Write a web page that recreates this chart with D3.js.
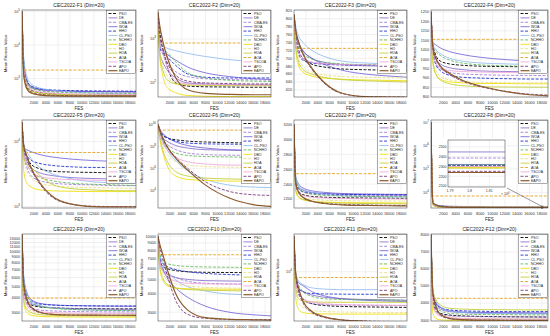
<!DOCTYPE html>
<html>
<head>
<meta charset="utf-8">
<script src="https://cdn.jsdelivr.net/npm/d3@7"></script>
<style>
  body { margin: 0; background: #fff; }
  svg { display: block; font-family: "Liberation Sans", Arial, sans-serif; }
</style>
</head>
<body>
<div id="chart"></div>
<script>
// sample points (FES) shared by every curve
const fes = [0, 300, 800, 1500, 3000, 5000, 8000, 12000, 16000, 19000];
const algos = ["PSO", "DE", "CMA-ES", "WOA", "HHO", "CL-PSO", "NCHHO", "DBO", "HO", "HOA", "AOA", "TSCOA", "APO", "EAPO"];
const xTicks = [2000, 4000, 6000, 8000, 10000, 12000, 14000, 16000, 18000];

// rows follow the algos order
const f1 = [
	[100000, 1500, 600, 450, 380, 350, 330, 320, 315, 312],
	[100000, 3000, 900, 600, 480, 440, 420, 410, 405, 400],
	[100000, 2000, 700, 520, 450, 420, 410, 405, 400, 398],
	[100000, 2500, 800, 550, 470, 440, 420, 410, 405, 402],
	[100000, 3000, 900, 600, 500, 460, 440, 430, 425, 420],
	[100000, 4000, 1200, 700, 520, 450, 400, 370, 350, 340],
	[100000, 2500, 800, 550, 440, 400, 380, 370, 365, 360],
	[100000, 1200, 500, 380, 330, 315, 308, 305, 303, 302],
	[100000, 1500, 550, 420, 360, 340, 330, 325, 322, 320],
	[100000, 1800, 600, 430, 370, 345, 330, 322, 318, 315],
	[100000, 1800, 1800, 1800, 1800, 1800, 1800, 1800, 1800, 1800],
	[100000, 2000, 700, 480, 400, 370, 350, 340, 335, 330],
	[100000, 1500, 550, 400, 340, 320, 310, 306, 304, 303],
	[100000, 1200, 500, 370, 320, 305, 301, 300, 300, 300]
];
const f2 = [
	[4000, 1500, 600, 250, 100, 85, 82, 81, 80, 80],
	[4000, 500, 300, 200, 130, 100, 95, 92, 91, 90],
	[4000, 700, 450, 300, 180, 140, 125, 120, 118, 116],
	[4000, 700, 550, 450, 330, 230, 170, 140, 125, 120],
	[4000, 600, 500, 400, 250, 160, 135, 130, 130, 130],
	[4000, 900, 700, 620, 540, 470, 400, 340, 300, 280],
	[4000, 800, 600, 500, 300, 170, 130, 115, 110, 108],
	[4000, 400, 150, 80, 60, 52, 50, 49, 49, 49],
	[4000, 500, 250, 150, 100, 92, 90, 89, 88, 88],
	[4000, 450, 200, 120, 95, 90, 88, 87, 87, 86],
	[4000, 810, 810, 810, 810, 810, 810, 810, 810, 810],
	[4000, 1000, 500, 250, 110, 95, 92, 91, 90, 90],
	[4000, 1200, 600, 300, 150, 110, 100, 97, 95, 95],
	[4000, 2000, 900, 400, 130, 70, 58, 55, 54, 54]
];
const f3 = [
	[810, 760, 720, 700, 685, 678, 673, 671, 670, 670],
	[810, 770, 740, 720, 700, 690, 684, 681, 680, 679],
	[810, 750, 715, 700, 690, 686, 684, 683, 682, 682],
	[810, 760, 735, 718, 700, 685, 670, 660, 655, 652],
	[810, 750, 710, 695, 688, 685, 683, 682, 681, 681],
	[810, 780, 755, 740, 720, 705, 693, 688, 686, 685],
	[810, 765, 730, 712, 698, 690, 686, 684, 683, 683],
	[810, 720, 680, 665, 655, 650, 647, 645, 644, 643],
	[810, 740, 700, 680, 665, 658, 654, 652, 651, 650],
	[810, 730, 690, 672, 660, 652, 646, 643, 641, 640],
	[810, 725, 725, 725, 725, 725, 725, 725, 725, 725],
	[810, 745, 715, 700, 690, 686, 684, 683, 682, 682],
	[810, 768, 738, 710, 672, 638, 611, 603, 602, 602],
	[810, 770, 740, 712, 675, 640, 612, 603, 602, 601]
];
const f4 = [
	[1250, 1080, 1020, 990, 975, 968, 963, 961, 960, 960],
	[1250, 1060, 1000, 975, 955, 945, 938, 935, 933, 932],
	[1250, 1050, 980, 950, 930, 922, 918, 915, 914, 913],
	[1250, 1090, 1075, 1060, 1040, 1025, 1010, 998, 990, 985],
	[1250, 1040, 970, 940, 915, 905, 900, 897, 895, 895],
	[1250, 1080, 1050, 1030, 1005, 990, 980, 975, 972, 970],
	[1250, 1070, 1040, 1020, 995, 980, 970, 965, 962, 960],
	[1250, 980, 920, 895, 880, 875, 872, 871, 870, 870],
	[1250, 1000, 940, 910, 890, 882, 878, 876, 875, 875],
	[1250, 990, 920, 890, 870, 860, 855, 853, 852, 852],
	[1250, 1105, 1105, 1105, 1105, 1105, 1105, 1105, 1105, 1105],
	[1250, 1030, 980, 955, 940, 935, 932, 930, 930, 930],
	[1250, 1060, 1000, 960, 920, 885, 855, 830, 815, 810],
	[1250, 1065, 1005, 965, 925, 890, 858, 830, 812, 806]
];
const f5 = [
	[20000, 9000, 6000, 4500, 3800, 3500, 3400, 3350, 3300, 3300],
	[20000, 7000, 5000, 4000, 3300, 3000, 2800, 2700, 2650, 2600],
	[20000, 6000, 4000, 3000, 2500, 2300, 2200, 2150, 2100, 2100],
	[20000, 8000, 7500, 7000, 6300, 5800, 5400, 5100, 4950, 4900],
	[20000, 7000, 6000, 5200, 4600, 4300, 4100, 4000, 4000, 4000],
	[20000, 9000, 7000, 5500, 4000, 3200, 2700, 2400, 2300, 2250],
	[20000, 6000, 4500, 3500, 2800, 2500, 2300, 2200, 2150, 2100],
	[20000, 3500, 2300, 2000, 1800, 1750, 1720, 1700, 1700, 1700],
	[20000, 5000, 3500, 2800, 2300, 2100, 2000, 1950, 1920, 1900],
	[20000, 5500, 4500, 4000, 3000, 2200, 1900, 1800, 1750, 1750],
	[20000, 6800, 6800, 6800, 6800, 6800, 6800, 6800, 6800, 6800],
	[20000, 6500, 4500, 3500, 2900, 2700, 2600, 2550, 2500, 2500],
	[20000, 8000, 5500, 3800, 2200, 1400, 1100, 1010, 1000, 1000],
	[20000, 8500, 6000, 4000, 2300, 1450, 1100, 1000, 990, 985]
];
const f6 = [
	[1e10, 3e9, 1e9, 6e8, 4e8, 3e8, 2.5e8, 2.2e8, 2e8, 2e8],
	[1e10, 2e9, 6e8, 3e8, 1.2e8, 7e7, 5e7, 4.5e7, 4e7, 4e7],
	[1e10, 1.5e9, 4e8, 1.5e8, 5e7, 2.5e7, 1.8e7, 1.6e7, 1.5e7, 1.5e7],
	[1e10, 4e9, 1.5e9, 7e8, 2.5e8, 1.2e8, 7e7, 5e7, 4.5e7, 4.3e7],
	[1e10, 3e9, 1.2e9, 6e8, 3e8, 2e8, 1.7e8, 1.6e8, 1.5e8, 1.5e8],
	[1e10, 2e9, 3e8, 5e7, 5e6, 6e5, 1e5, 3e4, 2e4, 1.8e4],
	[1e10, 1.5e9, 3e8, 8e7, 2.5e7, 1.5e7, 1.2e7, 1.1e7, 1e7, 1e7],
	[1e10, 5e8, 3e7, 2e6, 2e5, 1e5, 8e4, 7e4, 7e4, 7e4],
	[1e10, 1e9, 1e8, 2e7, 4e6, 2e6, 1.5e6, 1.3e6, 1.2e6, 1.2e6],
	[1e10, 8e8, 5e7, 5e6, 5e5, 2e5, 1.3e5, 1.1e5, 1e5, 1e5],
	[1e10, 3e9, 3e9, 3e9, 3e9, 3e9, 3e9, 3e9, 3e9, 3e9],
	[1e10, 1e9, 2e8, 5e7, 1e7, 4e6, 2.5e6, 2e6, 1.9e6, 1.8e6],
	[1e10, 3e9, 5e8, 1e8, 1e7, 1e6, 6e4, 8e3, 4e3, 3.5e3],
	[1e10, 3e9, 6e8, 1e8, 8e6, 7e5, 3e4, 2e3, 500, 350]
];
const f7 = [
	[3200, 2400, 2300, 2260, 2235, 2225, 2218, 2214, 2212, 2210],
	[3200, 2450, 2360, 2320, 2290, 2275, 2265, 2258, 2255, 2253],
	[3200, 2420, 2330, 2295, 2270, 2258, 2250, 2246, 2244, 2243],
	[3200, 2500, 2400, 2350, 2310, 2290, 2275, 2268, 2264, 2262],
	[3200, 2420, 2340, 2300, 2280, 2270, 2263, 2260, 2258, 2257],
	[3200, 2480, 2380, 2330, 2290, 2265, 2245, 2235, 2230, 2228],
	[3200, 2450, 2350, 2300, 2265, 2250, 2240, 2235, 2232, 2230],
	[3200, 2300, 2220, 2190, 2170, 2160, 2153, 2150, 2148, 2147],
	[3200, 2350, 2260, 2220, 2195, 2185, 2178, 2175, 2173, 2172],
	[3200, 2320, 2230, 2195, 2170, 2155, 2145, 2140, 2137, 2135],
	[3200, 2540, 2540, 2540, 2540, 2540, 2540, 2540, 2540, 2540],
	[3200, 2380, 2290, 2250, 2225, 2215, 2208, 2204, 2202, 2200],
	[3200, 2400, 2280, 2220, 2170, 2145, 2128, 2120, 2116, 2114],
	[3200, 2410, 2290, 2225, 2170, 2140, 2122, 2114, 2110, 2108]
];
const f8 = [
	[1e7, 3000, 2500, 2400, 2350, 2330, 2320, 2312, 2308, 2305],
	[1e7, 4000, 3000, 2700, 2550, 2500, 2470, 2455, 2450, 2448],
	[1e7, 3500, 2800, 2600, 2480, 2430, 2405, 2392, 2388, 2386],
	[1e7, 3800, 2900, 2600, 2450, 2380, 2345, 2330, 2322, 2320],
	[1e7, 3500, 2800, 2550, 2420, 2360, 2330, 2318, 2314, 2312],
	[1e7, 4000, 3000, 2650, 2450, 2360, 2320, 2305, 2300, 2298],
	[1e7, 3600, 2800, 2550, 2420, 2360, 2335, 2322, 2318, 2316],
	[1e7, 2800, 2450, 2350, 2310, 2298, 2292, 2290, 2290, 2290],
	[1e7, 3000, 2550, 2400, 2330, 2310, 2302, 2300, 2299, 2298],
	[1e7, 2900, 2500, 2380, 2320, 2300, 2292, 2287, 2284, 2282],
	[1e7, 7000, 7000, 7000, 7000, 7000, 7000, 7000, 7000, 7000],
	[1e7, 3200, 2600, 2450, 2360, 2325, 2310, 2304, 2301, 2300],
	[1e7, 3500, 2800, 2500, 2350, 2290, 2262, 2252, 2250, 2250],
	[1e7, 3600, 2850, 2500, 2340, 2280, 2255, 2243, 2239, 2238]
];
const f9 = [
	[14000, 5000, 3800, 3500, 3350, 3300, 3260, 3240, 3230, 3230],
	[14000, 5500, 4000, 3600, 3400, 3300, 3250, 3220, 3200, 3200],
	[14000, 4500, 3600, 3300, 3150, 3100, 3070, 3050, 3040, 3040],
	[14000, 6000, 4500, 3900, 3600, 3500, 3450, 3420, 3400, 3400],
	[14000, 5500, 4200, 3800, 3550, 3480, 3440, 3425, 3420, 3420],
	[14000, 6000, 4400, 3800, 3450, 3300, 3200, 3150, 3120, 3110],
	[14000, 5000, 4200, 3700, 3400, 3280, 3200, 3150, 3130, 3120],
	[14000, 3600, 3000, 2850, 2780, 2760, 2750, 2745, 2740, 2740],
	[14000, 4000, 3300, 3100, 2980, 2940, 2920, 2910, 2905, 2900],
	[14000, 3800, 3200, 3000, 2880, 2840, 2820, 2810, 2805, 2800],
	[14000, 4000, 4000, 4000, 4000, 4000, 4000, 4000, 4000, 4000],
	[14000, 4500, 3500, 3200, 3050, 3000, 2970, 2960, 2955, 2950],
	[14000, 5000, 3800, 3300, 3000, 2900, 2860, 2850, 2845, 2845],
	[14000, 5200, 3900, 3350, 3020, 2900, 2860, 2850, 2845, 2840]
];
const f10 = [
	[10000, 7000, 6200, 6000, 5800, 5700, 5650, 5630, 5620, 5620],
	[10000, 6500, 5800, 5500, 5200, 5050, 4950, 4920, 4900, 4900],
	[10000, 6800, 6000, 5600, 5200, 4900, 4750, 4700, 4680, 4670],
	[10000, 7000, 6000, 5200, 4400, 3800, 3300, 3000, 2880, 2830],
	[10000, 7200, 6500, 6200, 5900, 5700, 5550, 5450, 5400, 5370],
	[10000, 7500, 6500, 5800, 5000, 4500, 4200, 4000, 3950, 3920],
	[10000, 7500, 6800, 6500, 6300, 6200, 6150, 6120, 6100, 6100],
	[10000, 6000, 5000, 4600, 4400, 4350, 4330, 4320, 4310, 4300],
	[10000, 6500, 5600, 5000, 4700, 4550, 4450, 4400, 4380, 4370],
	[10000, 6200, 5200, 4700, 4400, 4300, 4250, 4220, 4200, 4200],
	[10000, 7460, 7460, 7460, 7460, 7460, 7460, 7460, 7460, 7460],
	[10000, 6800, 5800, 5300, 4900, 4750, 4700, 4680, 4660, 4660],
	[10000, 8500, 7000, 5500, 3600, 2900, 2720, 2680, 2670, 2665],
	[10000, 8800, 7500, 6000, 4000, 3100, 2750, 2680, 2660, 2650]
];
const f11 = [
	[25000, 9000, 6000, 5000, 4400, 4200, 4100, 4050, 4020, 4000],
	[25000, 8000, 6500, 6000, 5500, 5200, 5000, 4900, 4850, 4800],
	[25000, 7000, 5500, 4800, 4400, 4300, 4250, 4220, 4200, 4200],
	[25000, 9000, 7500, 7000, 6000, 5400, 5000, 4800, 4700, 4650],
	[25000, 8000, 6500, 6000, 5700, 5650, 5620, 5600, 5600, 5600],
	[25000, 9500, 7800, 7200, 6600, 6400, 6300, 6300, 6300, 6300],
	[25000, 8500, 7000, 6000, 5300, 5000, 4900, 4850, 4820, 4800],
	[25000, 5000, 3800, 3500, 3400, 3380, 3370, 3370, 3370, 3370],
	[25000, 6000, 4500, 4000, 3700, 3600, 3550, 3520, 3500, 3500],
	[25000, 6500, 5000, 4700, 4600, 4570, 4560, 4560, 4560, 4560],
	[25000, 8600, 8600, 8600, 8600, 8600, 8600, 8600, 8600, 8600],
	[25000, 7500, 5800, 5000, 4600, 4400, 4300, 4250, 4220, 4200],
	[25000, 9000, 6000, 4500, 3500, 3100, 2900, 2820, 2790, 2780],
	[25000, 9500, 6500, 4700, 3600, 3150, 2900, 2800, 2770, 2760]
];
const f12 = [
	[8000, 4200, 3600, 3400, 3300, 3250, 3220, 3200, 3190, 3180],
	[8000, 4500, 3900, 3650, 3500, 3450, 3420, 3400, 3400, 3400],
	[8000, 4000, 3500, 3350, 3250, 3220, 3200, 3190, 3185, 3180],
	[8000, 4700, 4000, 3750, 3550, 3480, 3450, 3440, 3430, 3420],
	[8000, 4600, 4000, 3750, 3600, 3550, 3520, 3500, 3500, 3500],
	[8000, 4800, 4100, 3800, 3550, 3450, 3400, 3380, 3370, 3360],
	[8000, 4400, 3800, 3550, 3400, 3350, 3330, 3320, 3310, 3300],
	[8000, 3400, 3100, 3020, 2990, 2980, 2975, 2970, 2970, 2970],
	[8000, 3800, 3400, 3250, 3150, 3120, 3100, 3090, 3085, 3080],
	[8000, 4800, 4200, 3900, 3700, 3650, 3620, 3610, 3600, 3600],
	[8000, 4280, 4280, 4280, 4280, 4280, 4280, 4280, 4280, 4280],
	[8000, 4000, 3450, 3250, 3150, 3100, 3080, 3070, 3065, 3060],
	[8000, 4500, 3700, 3300, 3080, 3020, 3000, 2995, 2990, 2990],
	[8000, 4600, 3800, 3350, 3100, 3030, 3005, 2995, 2990, 2985]
];

// tick labels
const ticksF1 = [1e3, 1e4, 1e5];
const ticksF2 = [1e2, 1e3];
const ticksF3 = [620, 640, 660, 680, 700, 720, 740, 760, 780, 800, 820];
const ticksF4 = [800, 850, 900, 950, 1000, 1050, 1100, 1150, 1200, 1250];
const ticksF5 = [1e3, 1e4];
const ticksF6 = [1e4, 1e6, 1e8, 1e10];
const ticksF7 = [2200, 2400, 2600, 2800, 3000, 3200];
const ticksF8 = [1e4, 1e5, 1e6, 1e7];
const ticksF9 = [3000, 4000, 5000, 6000, 7000, 8000, 9000, 10000, 11000, 12000, 13000];
const ticksF10 = [3000, 4000, 5000, 6000, 7000, 8000, 9000, 10000];
const ticksF11 = [1e4];
const ticksF12 = [3000, 4000, 5000, 6000, 7000, 8000];
const insetYTicks = [2100, 2200, 2300, 2400, 2500];
const insetXTicks = [17900, 18000, 18100];

const styles = [
	{ c: "#1a1a1a", d: "3,1.5", w: 1 },
	{ c: "#8064c8", d: null, w: 0.8 },
	{ c: "#9b6fd6", d: "3,1.5", w: 0.8 },
	{ c: "#6b5bd4", d: null, w: 0.8 },
	{ c: "#2233cc", d: "3,1.5", w: 0.9 },
	{ c: "#8ab8ee", d: null, w: 0.8 },
	{ c: "#55b24a", d: "3,1.5", w: 0.8 },
	{ c: "#f2e22a", d: null, w: 1 },
	{ c: "#e6dc78", d: "3,1.5", w: 0.8 },
	{ c: "#c5cf3a", d: null, w: 0.9 },
	{ c: "#e3a41f", d: "3,1.5", w: 0.9 },
	{ c: "#ef9fd6", d: null, w: 0.8 },
	{ c: "#7a3d7a", d: "3,1.5", w: 0.9 },
	{ c: "#8b5a2b", d: null, w: 1.2 }
];

const cols = [[22, 136], [158, 271], [294, 407], [431, 548]];
const rows = [[10, 97], [120, 208], [234, 321]];

const panels = [
	{ n: 1, data: f1, log: true, dom: [282, 112000], ticks: ticksF1, exp: true },
	{ n: 2, data: f2, log: true, dom: [48, 4570], ticks: ticksF2, exp: true },
	{ n: 3, data: f3, log: false, dom: [602, 822], ticks: ticksF3 },
	{ n: 4, data: f4, log: false, dom: [800, 1260], ticks: ticksF4 },
	{ n: 5, data: f5, log: true, dom: [950, 21500], ticks: ticksF5, exp: true },
	{ n: 6, data: f6, log: true, dom: [250, 2.5e10], ticks: ticksF6, exp: true },
	{ n: 7, data: f7, log: false, dom: [2080, 3260], ticks: ticksF7 },
	{ n: 8, data: f8, log: true, dom: [2140, 1.26e7], ticks: ticksF8, exp: true },
	{ n: 9, data: f9, log: true, dom: [2540, 14200], ticks: ticksF9 },
	{ n: 10, data: f10, log: true, dom: [2610, 10370], ticks: ticksF10 },
	{ n: 11, data: f11, log: true, dom: [2820, 26300], ticks: ticksF11, exp: true },
	{ n: 12, data: f12, log: false, dom: [2950, 8050], ticks: ticksF12 }
];

const svg = d3.select("#chart").append("svg")
	.attr("width", 550)
	.attr("height", 336);

svg.append("rect").attr("width", 550).attr("height", 336).attr("fill", "#fff");

function expLabel(sel, v) {
	const e = Math.round(Math.log10(v));
	sel.append("tspan").text("10");
	sel.append("tspan").attr("dy", -2).style("font-size", "3px").text(e);
}

function drawLines(g, data, x, y) {
	const line = d3.line()
		.x((d, i) => x(fes[i]))
		.y(d => y(d))
		.curve(d3.curveMonotoneX);
	g.selectAll("path.curve")
		.data(data)
		.join("path")
		.attr("class", "curve")
		.attr("d", line)
		.attr("fill", "none")
		.attr("stroke", (d, i) => styles[i].c)
		.attr("stroke-width", (d, i) => styles[i].w)
		.attr("stroke-dasharray", (d, i) => styles[i].d);
}

panels.forEach((p, k) => {
	const [x0, x1] = cols[k % 4];
	const [y0, y1] = rows[Math.floor(k / 4)];

	const x = d3.scaleLinear().domain([0, 19000]).range([x0, x1]);
	const y = (p.log ? d3.scaleLog() : d3.scaleLinear()).domain(p.dom).range([y1, y0]);

	const g = svg.append("g");

	// plot background + grid
	g.append("rect")
		.attr("x", x0).attr("y", y0)
		.attr("width", x1 - x0).attr("height", y1 - y0)
		.attr("fill", "#fff");

	g.selectAll("line.gx")
		.data(xTicks)
		.join("line")
		.attr("x1", d => x(d)).attr("x2", d => x(d))
		.attr("y1", y0).attr("y2", y1)
		.attr("stroke", "#e3e3e3").attr("stroke-width", 0.5);

	g.selectAll("line.gy")
		.data(p.ticks)
		.join("line")
		.attr("x1", x0).attr("x2", x1)
		.attr("y1", d => y(d)).attr("y2", d => y(d))
		.attr("stroke", "#e3e3e3").attr("stroke-width", 0.5);

	const clipId = "clip" + p.n;
	svg.append("clipPath").attr("id", clipId)
		.append("rect")
		.attr("x", x0).attr("y", y0)
		.attr("width", x1 - x0).attr("height", y1 - y0);

	const lines = g.append("g").attr("clip-path", `url(#${clipId})`);
	drawLines(lines, p.data, x, y);

	// box
	g.append("rect")
		.attr("x", x0).attr("y", y0)
		.attr("width", x1 - x0).attr("height", y1 - y0)
		.attr("fill", "none")
		.attr("stroke", "#333").attr("stroke-width", 0.5);

	// x tick labels
	g.selectAll("text.xt")
		.data(xTicks)
		.join("text")
		.attr("x", d => x(d))
		.attr("y", y1 + 7)
		.attr("text-anchor", "middle")
		.style("font-size", "3.8px")
		.attr("fill", "#333")
		.text(d => d);

	// y tick labels
	const yt = g.selectAll("text.yt")
		.data(p.ticks)
		.join("text")
		.attr("x", x0 - 2)
		.attr("y", d => y(d) + 1.4)
		.attr("text-anchor", "end")
		.style("font-size", "3.8px")
		.attr("fill", "#333");
	if (p.exp) {
		yt.each(function (d) { expLabel(d3.select(this), d); });
	} else {
		yt.text(d => d);
	}

	// titles
	g.append("text")
		.attr("x", (x0 + x1) / 2)
		.attr("y", y0 - 3.5)
		.attr("text-anchor", "middle")
		.style("font-size", "5px")
		.attr("fill", "#222")
		.text(`CEC2022-F${p.n} (Dim=20)`);

	g.append("text")
		.attr("x", (x0 + x1) / 2)
		.attr("y", y1 + 12.5)
		.attr("text-anchor", "middle")
		.style("font-size", "4.5px")
		.attr("fill", "#222")
		.text("FES");

	g.append("text")
		.attr("transform", `translate(${x0 - 15},${(y0 + y1) / 2}) rotate(-90)`)
		.attr("text-anchor", "middle")
		.style("font-size", "4.3px")
		.attr("fill", "#222")
		.text("Mean Fitness Value");

	// zoomed inset on F8
	if (p.n === 8) {
		const ix0 = 448, ix1 = 505, iy0 = 140, iy1 = 187;
		const ix = d3.scaleLinear().domain([17890, 18180]).range([ix0, ix1]);
		const iy = d3.scaleLinear().domain([2090, 2570]).range([iy1, iy0]);

		g.append("line")
			.attr("x1", ix1).attr("y1", iy1)
			.attr("x2", x(17900)).attr("y2", y(2600))
			.attr("stroke", "#333").attr("stroke-width", 0.5);
		g.append("rect")
			.attr("x", x(17890)).attr("y", y(2600))
			.attr("width", x(18180) - x(17890)).attr("height", y(2090) - y(2600))
			.attr("fill", "none").attr("stroke", "#333").attr("stroke-width", 0.5);

		g.append("rect")
			.attr("x", ix0 - 12).attr("y", iy0 - 2)
			.attr("width", ix1 - ix0 + 14).attr("height", iy1 - iy0 + 10)
			.attr("fill", "#fff");
		g.selectAll("line.igx")
			.data(insetXTicks)
			.join("line")
			.attr("x1", d => ix(d)).attr("x2", d => ix(d))
			.attr("y1", iy0).attr("y2", iy1)
			.attr("stroke", "#e3e3e3").attr("stroke-width", 0.5);
		g.selectAll("line.igy")
			.data(insetYTicks)
			.join("line")
			.attr("x1", ix0).attr("x2", ix1)
			.attr("y1", d => iy(d)).attr("y2", d => iy(d))
			.attr("stroke", "#e3e3e3").attr("stroke-width", 0.5);

		svg.append("clipPath").attr("id", "clipInset")
			.append("rect")
			.attr("x", ix0).attr("y", iy0)
			.attr("width", ix1 - ix0).attr("height", iy1 - iy0);
		const il = g.append("g").attr("clip-path", "url(#clipInset)");
		il.selectAll("line.ic")
			.data(p.data)
			.join("line")
			.attr("x1", ix0).attr("x2", ix1)
			.attr("y1", d => iy(d[d.length - 1])).attr("y2", d => iy(d[d.length - 1]))
			.attr("stroke", (d, i) => styles[i].c)
			.attr("stroke-width", (d, i) => styles[i].w)
			.attr("stroke-dasharray", (d, i) => styles[i].d);

		g.append("rect")
			.attr("x", ix0).attr("y", iy0)
			.attr("width", ix1 - ix0).attr("height", iy1 - iy0)
			.attr("fill", "none").attr("stroke", "#333").attr("stroke-width", 0.5);

		g.selectAll("text.iyt")
			.data(insetYTicks)
			.join("text")
			.attr("x", ix0 - 1.5)
			.attr("y", d => iy(d) + 1.3)
			.attr("text-anchor", "end")
			.style("font-size", "3.5px")
			.attr("fill", "#333")
			.text(d => d);
		g.selectAll("text.ixt")
			.data(insetXTicks)
			.join("text")
			.attr("x", d => ix(d))
			.attr("y", iy1 + 4.5)
			.attr("text-anchor", "middle")
			.style("font-size", "3.5px")
			.attr("fill", "#333")
			.text(d => d / 10000);
		const xe = g.append("text")
			.attr("x", ix1 - 4)
			.attr("y", iy1 + 8)
			.style("font-size", "3.5px")
			.attr("fill", "#333");
		xe.append("tspan").text("\u00d7 10");
		xe.append("tspan").attr("dy", -1.5).style("font-size", "2.6px").text("4");
	}

	// legend
	const lw = 29, lh = 63;
	const lx = x1 - lw - 0.5, ly = y0 + 0.5;
	const leg = g.append("g");
	leg.append("rect")
		.attr("x", lx).attr("y", ly)
		.attr("width", lw).attr("height", lh)
		.attr("fill", "#fff")
		.attr("stroke", "#333").attr("stroke-width", 0.4);
	const item = leg.selectAll("g.item")
		.data(algos)
		.join("g")
		.attr("transform", (d, i) => `translate(${lx},${ly + 3 + i * 4.4})`);
	item.append("line")
		.attr("x1", 2).attr("x2", 11)
		.attr("stroke", (d, i) => styles[i].c)
		.attr("stroke-width", (d, i) => styles[i].w)
		.attr("stroke-dasharray", (d, i) => styles[i].d);
	item.append("text")
		.attr("x", 12.5).attr("y", 1.2)
		.style("font-size", "3.5px")
		.attr("fill", "#222")
		.text(d => d);
});
</script>
</body>
</html>
